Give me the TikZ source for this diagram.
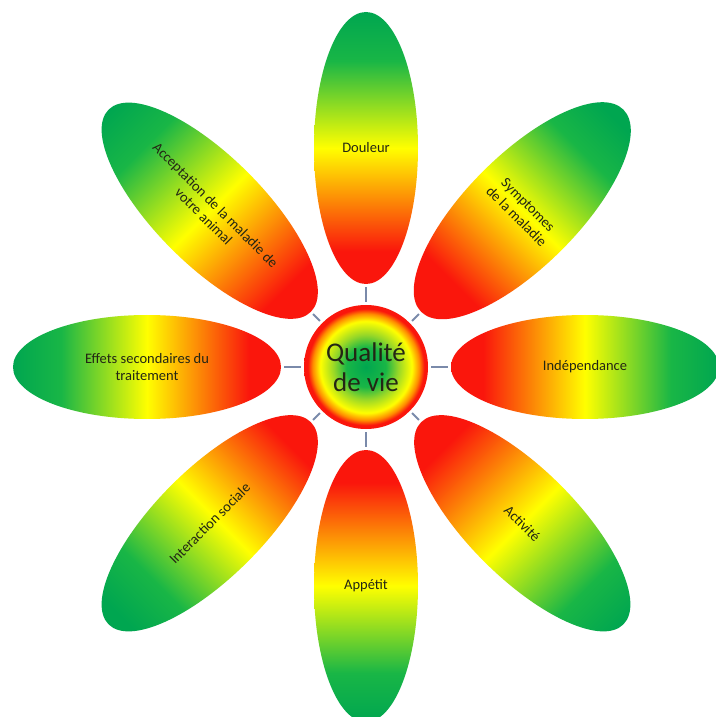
\documentclass[tikz,border=0pt]{standalone}
\usepackage{fontspec}
\setmainfont{Carlito}
\usetikzlibrary{shapes.geometric}
\definecolor{PetalRed}{RGB}{250,22,12}
\definecolor{PetalOrange}{RGB}{255,140,0}
\definecolor{PetalYellow}{RGB}{255,255,0}
\definecolor{PetalLime}{RGB}{150,215,40}
\definecolor{PetalGreen}{RGB}{25,182,70}
\definecolor{PetalDeep}{RGB}{0,166,80}
\definecolor{LinkBlue}{RGB}{122,138,170}
\definecolor{LabelInk}{RGB}{35,38,20}
\pgfdeclarehorizontalshading{petalstraight}{100bp}{color(0bp)=(PetalRed); color(31bp)=(PetalRed); color(50bp)=(PetalYellow); color(66bp)=(PetalGreen); color(75bp)=(PetalDeep); color(100bp)=(PetalDeep)}
\pgfdeclarehorizontalshading{petaldiag}{100bp}{color(0bp)=(PetalRed); color(27.7bp)=(PetalRed); color(50bp)=(PetalYellow); color(68.8bp)=(PetalGreen); color(79.3bp)=(PetalDeep); color(100bp)=(PetalDeep)}
\pgfdeclareradialshading{heart}{\pgfpoint{0bp}{0bp}}{color(0bp)=(PetalDeep); color(8bp)=(PetalGreen); color(13bp)=(PetalLime); color(18.5bp)=(PetalYellow); color(21.5bp)=(PetalOrange); color(23.5bp)=(PetalRed); color(25bp)=(PetalRed); color(50bp)=(PetalRed)}

\begin{document}
\begin{tikzpicture}[x=1pt,y=1pt,
  petal/.style={ellipse,shade,inner sep=0pt,text=LabelInk,align=center,
    font=\fontsize{14.5}{16.5}\selectfont},
  upright/.style={petal,shading=petalstraight,minimum width=104,minimum height=272},
  flat/.style={petal,shading=petalstraight,minimum width=268,minimum height=104},
  crosspetal/.style={petal,shading=petaldiag,minimum width=108,minimum height=286},
  alongpetal/.style={petal,shading=petaldiag,minimum width=286,minimum height=108},
  hub/.style={circle,shade,shading=heart,minimum size=124,inner sep=0pt,
    text=LabelInk,align=center,font=\fontsize{27}{30}\selectfont},
  link/.style={draw=LinkBlue,line width=2pt,shorten <=3pt,shorten >=3pt}]
  \path[use as bounding box,fill=white] (-366,-350) rectangle (349,367);

  \node[hub] (qualite) at (0,0) {Qualité\\de vie};

  \node[upright,shading angle=90] (douleur) at (90:219) {Douleur};
  \node[crosspetal,rotate=-45,shading angle=45] (symptomes) at (45:221) {Symptomes\\de la maladie};
  \node[flat,shading angle=0] (independance) at (0:219) {Indépendance};
  \node[alongpetal,rotate=-45,shading angle=-45] (activite) at (-45:221) {Activité};
  \node[upright,shading angle=270] (appetit) at (270:219) {Appétit};
  \node[alongpetal,rotate=45,shading angle=225] (interaction) at (225:221) {Interaction sociale};
  \node[flat,shading angle=180] (effets) at (180:219) {Effets secondaires du\\traitement};
  \node[alongpetal,rotate=-45,shading angle=135] (acceptation) at (135:221) {Acceptation de la maladie de\\votre animal};

  \foreach \p in {douleur,symptomes,independance,activite,appetit,interaction,effets,acceptation}
    \draw[link] (qualite) -- (\p);
\end{tikzpicture}
\end{document}
